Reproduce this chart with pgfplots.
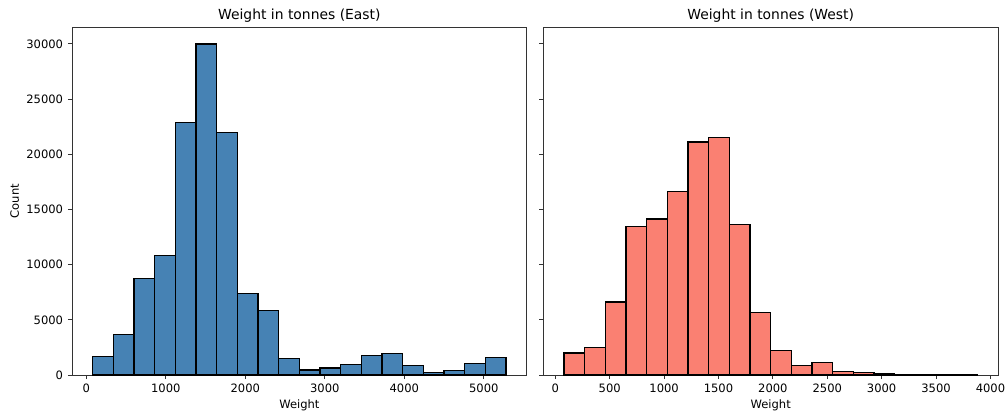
\documentclass[border=0pt]{standalone}
\usepackage{fontspec}
\setmainfont{DejaVu Sans}
\usepackage{pgfplots}
\pgfplotsset{compat=1.18}
\definecolor{steelblue}{HTML}{4682B4}
\definecolor{salmon}{HTML}{FA8072}

\pgfplotsset{histax/.style={
  scale only axis, width=327.4pt, height=250.3pt,
  ymin=0, ymax=31500,
  axis line style={line width=0.67pt, black!80},
  tick align=outside, major tick length=2.9pt,
  xtick pos=bottom, ytick pos=left,
  every tick/.style={black!80, line width=0.67pt},
  ytick={0,5000,10000,15000,20000,25000,30000},
  /pgf/number format/assume math mode=true,
  /pgf/number format/1000 sep={},
  scaled ticks=false,
  tick label style={font=\fontsize{8.3}{10}\selectfont},
  label style={font=\fontsize{8.3}{10}\selectfont},
  xlabel style={yshift=1.5pt},
  ylabel style={yshift=-1.5pt},
  title style={font=\fontsize{10}{12}\selectfont, yshift=-6pt},
  xlabel=Weight,
  anchor=south west,
}}

\begin{document}
\begin{tikzpicture}
\useasboundingbox (0,0) rectangle (725.04pt,298.08pt);
\begin{axis}[histax,
  at={(51.84pt,28.08pt)},
  xmin=-180, xmax=5540,
  xtick={0,1000,2000,3000,4000,5000},
  ylabel=Count,
  title={Weight in tonnes (East)}]
\addplot[ybar interval, fill=steelblue, draw=black, line width=0.85pt] coordinates {
(80,1650) (340,3700) (600,8750) (860,10800) (1120,22850) (1380,30000)
(1640,22000) (1900,7350) (2160,5850) (2420,1480) (2680,450) (2940,640)
(3200,970) (3460,1770) (3720,1970) (3980,850) (4240,220) (4500,400)
(4760,1060) (5020,1590) (5280,1590)};
\end{axis}
\begin{axis}[histax,
  at={(391.2pt,28.08pt)},
  xmin=-110, xmax=4070,
  xtick={0,500,1000,1500,2000,2500,3000,3500,4000},
  yticklabels={},
  title={Weight in tonnes (West)}]
\addplot[ybar interval, fill=salmon, draw=black, line width=0.85pt] coordinates {
(80,2000) (270,2480) (460,6620) (650,13440) (840,14140) (1030,16620)
(1220,21120) (1410,21540) (1600,13660) (1790,5650) (1980,2200) (2170,850)
(2360,1120) (2550,290) (2740,230) (2930,100) (3120,40) (3310,0)
(3500,0) (3690,30) (3880,30)};
\end{axis}
\end{tikzpicture}
\end{document}
